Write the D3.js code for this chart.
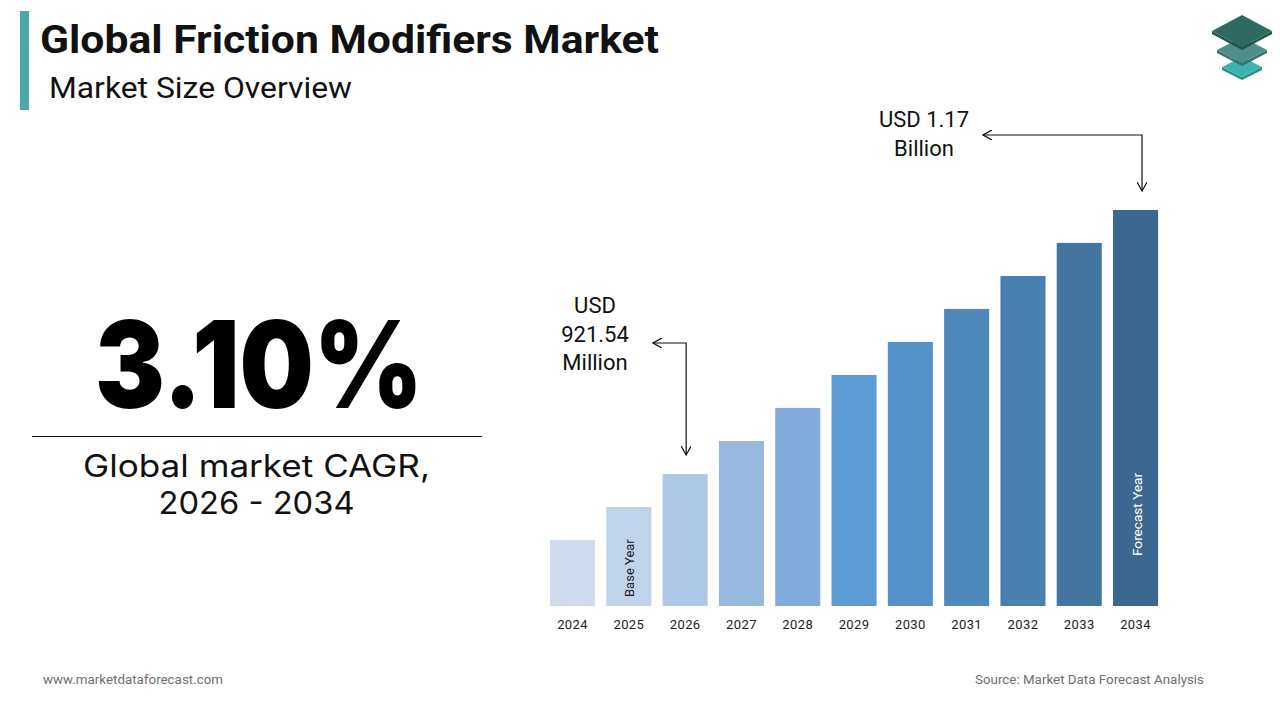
<!DOCTYPE html>
<html>
<head>
<meta charset="utf-8">
<script src="https://cdn.jsdelivr.net/npm/d3@7"></script>
<style>
  body { margin: 0; background: #fff; }
  svg { display: block; }
</style>
</head>
<body>
<div id="chart-area"></div>
<script>
// Chart data
var years = ["2024", "2025", "2026", "2027", "2028", "2029", "2030", "2031", "2032", "2033", "2034"];
// market size, USD million (bars are illustrative)
var marketSize = [859.4, 890.5, 921.54, 952.6, 983.7, 1014.7, 1045.8, 1076.9, 1107.9, 1139.0, 1170.0];
var barColors = ["#d0dcee", "#c1d3eb", "#afc7e6", "#97b8df", "#80abdb", "#5d9bd5", "#5591c9", "#4f89bc", "#4a80b0", "#4474a0", "#3b6890"];
var barNotes = {"2025": "Base Year", "2034": "Forecast Year"};
var cagrText = "3.10%";
var cagrLabel = ["Global market CAGR,", "2026 - 2034"];
var startLabel = ["USD", "921.54", "Million"];
var endLabel = ["USD 1.17", "Billion"];

var width = 1280, height = 720;

var svg = d3.select("#chart-area")
	.append("svg")
	.attr("width", width)
	.attr("height", height);

var defs = svg.append("defs");
defs.append("marker")
	.attr("id", "arrow")
	.attr("viewBox", "0 0 10 10")
	.attr("refX", 9).attr("refY", 5)
	.attr("markerWidth", 10).attr("markerHeight", 10)
	.attr("markerUnits", "userSpaceOnUse")
	.attr("orient", "auto-start-reverse")
	.append("path")
	.attr("d", "M0,0 L9,5 L0,10")
	.attr("fill", "none")
	.attr("stroke", "#111")
	.attr("stroke-width", 1.2);

/** Header */
svg.append("rect")
	.attr("x", 20).attr("y", 11)
	.attr("width", 9).attr("height", 99)
	.attr("fill", "#4aa9a8");

svg.append("text")
	.attr("x", 40).attr("y", 53)
	.attr("font-family", "Roboto")
	.attr("font-weight", 700)
	.attr("font-size", 39)
	.attr("textLength", 619)
	.attr("lengthAdjust", "spacingAndGlyphs")
	.attr("fill", "#111")
	.text("Global Friction Modifiers Market");

svg.append("text")
	.attr("x", 49).attr("y", 98)
	.attr("font-family", "Roboto")
	.attr("font-size", 29)
	.attr("textLength", 303)
	.attr("lengthAdjust", "spacingAndGlyphs")
	.attr("fill", "#111")
	.text("Market Size Overview");

/** Logo */
var logo = svg.append("g").attr("transform", "translate(1242,0)");
var layers = [
	{cy: 67, w: 20, h: 10, top: "#3db3ad", side: "#2f8f8a"},
	{cy: 50, w: 25, h: 13, top: "#4f8e89", side: "#3c706c"},
	{cy: 31, w: 30, h: 16, top: "#2e6a62", side: "#24534d"}
];
layers.forEach(function(l) {
	logo.append("path")
		.attr("d", "M" + (-l.w) + "," + l.cy + " L0," + (l.cy + l.h) + " L" + l.w + "," + l.cy +
			" L" + l.w + "," + (l.cy + 3) + " L0," + (l.cy + l.h + 3) + " L" + (-l.w) + "," + (l.cy + 3) + "Z")
		.attr("fill", l.side);
	logo.append("path")
		.attr("d", "M" + (-l.w) + "," + l.cy + " L0," + (l.cy - l.h) + " L" + l.w + "," + l.cy + " L0," + (l.cy + l.h) + "Z")
		.attr("fill", l.top);
});

/** CAGR block */
svg.append("text")
	.attr("x", 95).attr("y", 408)
	.attr("font-family", "Inter")
	.attr("font-weight", 900)
	.attr("font-size", 121)
	.attr("textLength", 328)
	.attr("lengthAdjust", "spacingAndGlyphs")
	.attr("fill", "#000")
	.text(cagrText);

svg.append("line")
	.attr("x1", 32).attr("x2", 482)
	.attr("y1", 436.5).attr("y2", 436.5)
	.attr("stroke", "#111").attr("stroke-width", 1.2);

var cagrWidths = [347, 196];
svg.append("g").selectAll("text")
	.data(cagrLabel)
	.enter()
	.append("text")
	.attr("x", function(d, i) { return 256.5 - cagrWidths[i] / 2; })
	.attr("y", function(d, i) { return 477 + i * 37; })
	.attr("font-family", "Inter")
	.attr("font-size", 31)
	.attr("textLength", function(d, i) { return cagrWidths[i]; })
	.attr("lengthAdjust", "spacingAndGlyphs")
	.attr("fill", "#111")
	.text(function(d) { return d; });

/** Scales */
var xScale = d3.scaleBand()
	.domain(years)
	.range([544.4, 1163.7])
	.paddingInner(0.2)
	.paddingOuter(0.1);

var yScale = d3.scaleLinear()
	.domain([797.3, 1170])
	.range([606, 210]);

var colorScale = d3.scaleOrdinal()
	.domain(years)
	.range(barColors);

var bars = years.map(function(y, i) { return {year: y, value: marketSize[i]}; });

/** Bars */
svg.append("g").selectAll("rect")
	.data(bars)
	.enter()
	.append("rect")
	.attr("x", function(d) { return xScale(d.year); })
	.attr("y", function(d) { return yScale(d.value); })
	.attr("width", xScale.bandwidth())
	.attr("height", function(d) { return yScale.range()[0] - yScale(d.value); })
	.attr("fill", function(d) { return colorScale(d.year); });

/** Axis */
var xAxis = d3.axisBottom(xScale).tickSize(0).tickPadding(14);
var axisG = svg.append("g")
	.attr("transform", "translate(0,606)")
	.call(xAxis);
axisG.select(".domain").remove();
axisG.selectAll("text")
	.attr("font-family", "Roboto")
	.attr("font-size", 13)
	.attr("letter-spacing", 0.4)
	.attr("fill", "#222");

/** Notes inside bars */
svg.append("g").selectAll("text")
	.data(bars.filter(function(d) { return barNotes[d.year]; }))
	.enter()
	.append("text")
	.attr("transform", function(d) {
		var cx = xScale(d.year) + xScale.bandwidth() / 2 + (d.year === "2034" ? 6 : 5.5);
		var by = d.year === "2034" ? 556 : 597;
		return "translate(" + cx + "," + by + ") rotate(-90)";
	})
	.attr("font-family", "Roboto")
	.attr("font-size", function(d) { return d.year === "2034" ? 13.6 : 13; })
	.attr("fill", function(d) { return d.year === "2034" ? "#fff" : "#222"; })
	.text(function(d) { return barNotes[d.year]; });

/** Callouts */
var firstBar = bars[2], lastBar = bars[bars.length - 1];
var x1 = xScale(firstBar.year) + xScale.bandwidth() / 2 + 1;
var x2 = xScale(lastBar.year) + 29;

svg.append("path")
	.attr("d", "M" + x1 + "," + (yScale(firstBar.value) - 19) + " L" + x1 + ",343 L653,343")
	.attr("fill", "none")
	.attr("stroke", "#111")
	.attr("stroke-width", 1.2)
	.attr("marker-start", "url(#arrow)")
	.attr("marker-end", "url(#arrow)");

svg.append("path")
	.attr("d", "M" + x2 + "," + (yScale(lastBar.value) - 19) + " L" + x2 + ",135 L983,135")
	.attr("fill", "none")
	.attr("stroke", "#111")
	.attr("stroke-width", 1.2)
	.attr("marker-start", "url(#arrow)")
	.attr("marker-end", "url(#arrow)");

svg.append("g").selectAll("text")
	.data(startLabel)
	.enter()
	.append("text")
	.attr("x", 595)
	.attr("y", function(d, i) { return 313 + i * 28.5; })
	.attr("text-anchor", "middle")
	.attr("font-family", "Roboto")
	.attr("font-size", 22)
	.attr("fill", "#111")
	.text(function(d) { return d; });

svg.append("g").selectAll("text")
	.data(endLabel)
	.enter()
	.append("text")
	.attr("x", 924)
	.attr("y", function(d, i) { return 127 + i * 29; })
	.attr("text-anchor", "middle")
	.attr("font-family", "Roboto")
	.attr("font-size", 22)
	.attr("fill", "#111")
	.text(function(d) { return d; });

/** Footer */
svg.append("text")
	.attr("x", 43).attr("y", 684)
	.attr("font-family", "Roboto")
	.attr("font-size", 12.5)
	.attr("textLength", 180)
	.attr("lengthAdjust", "spacingAndGlyphs")
	.attr("fill", "#6f6f6f")
	.text("www.marketdataforecast.com");

svg.append("text")
	.attr("x", 975).attr("y", 684)
	.attr("font-family", "Roboto")
	.attr("font-size", 12.5)
	.attr("textLength", 229)
	.attr("lengthAdjust", "spacingAndGlyphs")
	.attr("fill", "#6f6f6f")
	.text("Source: Market Data Forecast Analysis");
</script>
</body>
</html>
